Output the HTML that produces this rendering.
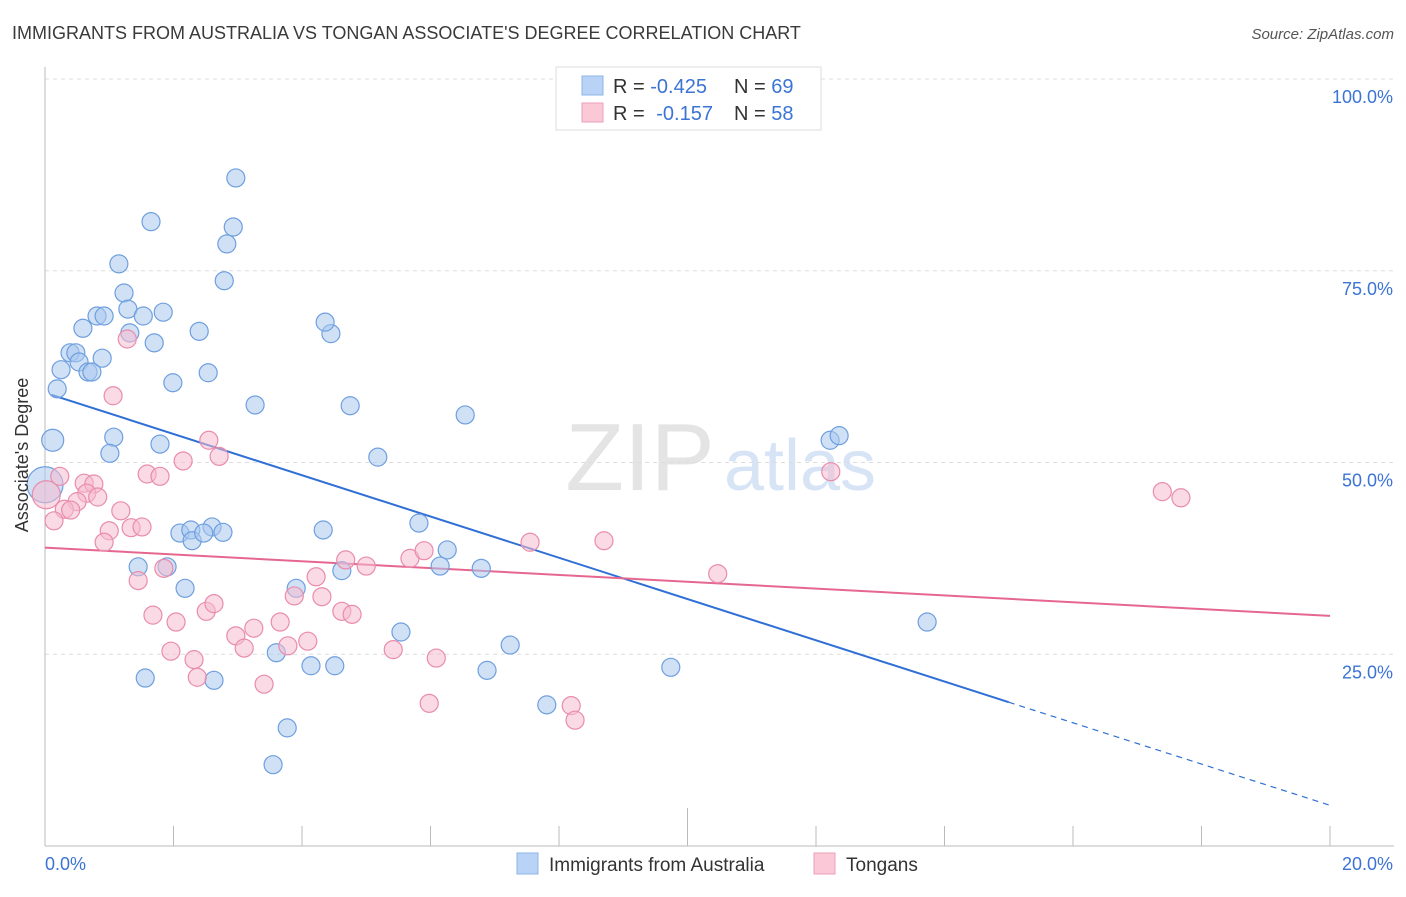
<!DOCTYPE html>
<html><head><meta charset="utf-8"><style>
body{margin:0;background:#fff;font-family:"Liberation Sans",sans-serif;}
svg text{font-family:"Liberation Sans",sans-serif;}
</style></head><body>
<svg id="chart" width="1406" height="892" xmlns="http://www.w3.org/2000/svg">
<text x="12" y="39" font-size="18" fill="#3a3a3a">IMMIGRANTS FROM AUSTRALIA VS TONGAN ASSOCIATE'S DEGREE CORRELATION CHART</text>
<text x="1394" y="39" font-size="15" fill="#555" font-style="italic" text-anchor="end">Source: ZipAtlas.com</text>
<text x="640" y="490" font-size="96" fill="#e4e4e4" font-family="Liberation Serif" text-anchor="middle">ZIP</text>
<text x="800" y="490" font-size="72" fill="#d6e4f5" text-anchor="middle">atlas</text>
<g id="grid"></g>
<g id="axes"></g>
<g id="lines"></g>
<g id="points"></g>
<text x="28" y="455" font-size="18" fill="#333" text-anchor="middle" transform="rotate(-90 28 455)">Associate's Degree</text>
<g>
<rect x="556" y="67" width="265" height="63" fill="#fff" stroke="#ddd"/>
<rect x="582" y="76" width="21" height="19" fill="#b8d3f5" stroke="#8cb4e8"/>
<rect x="582" y="103" width="21" height="19" fill="#fac8d7" stroke="#ee9fba"/>
<text x="613" y="93" font-size="20" fill="#333">R = <tspan fill="#3b74d4">-0.425</tspan></text>
<text x="734" y="93" font-size="20" fill="#333">N = <tspan fill="#3b74d4">69</tspan></text>
<text x="613" y="120" font-size="20" fill="#333">R = <tspan fill="#3b74d4" dx="6">-0.157</tspan></text>
<text x="734" y="120" font-size="20" fill="#333">N = <tspan fill="#3b74d4">58</tspan></text>
</g>
<g>
<rect x="517" y="853" width="21" height="21" fill="#b8d3f5" stroke="#8cb4e8"/>
<text x="549" y="871" font-size="19" fill="#333">Immigrants from Australia</text>
<rect x="814" y="853" width="21" height="21" fill="#fac8d7" stroke="#ee9fba"/>
<text x="846" y="871" font-size="19" fill="#333">Tongans</text>
</g>
</svg>
<script>
const xTicks=[0,2,4,6,8,10,12,14,16,18,20];
const yTicks=[25,50,75,100];
const yTickLabels=["25.0%","50.0%","75.0%","100.0%"];
const blueX=[2.97,1.65,2.93,2.83,2.79,1.15,1.23,0.59,0.81,0.92,1.29,1.53,1.84,1.32,1.70,2.40,4.45,4.36,0.39,0.48,0.25,0.53,0.67,0.73,0.89,0.19,1.99,2.54,3.27,4.75,6.54,0.12,1.07,1.79,1.01,5.18,12.22,12.36,0,2.10,2.27,2.29,2.60,2.47,2.77,4.33,5.82,6.26,6.15,6.79,1.45,1.90,2.18,3.91,4.62,5.54,3.60,4.14,4.51,7.24,6.88,1.56,2.63,9.74,7.81,3.77,3.55,13.73];
const blueY=[87.1,81.4,80.7,78.5,73.7,75.9,72.1,67.5,69.1,69.1,70.0,69.1,69.6,66.9,65.6,67.1,66.8,68.3,64.3,64.3,62.1,63.1,61.8,61.8,63.6,59.6,60.4,61.7,57.5,57.4,56.2,52.9,53.3,52.4,51.2,50.7,52.9,53.5,47.1,40.8,41.2,39.8,41.6,40.8,40.9,41.2,42.1,38.6,36.5,36.2,36.4,36.4,33.6,33.6,35.9,27.9,25.2,23.5,23.5,26.2,22.9,21.9,21.6,23.3,18.4,15.4,10.6,29.2];
const blueBig={31:11,38:18};
const pinkX=[1.28,1.06,2.55,2.71,2.15,1.59,1.79,0.23,0.61,0.76,0.65,0.82,0.50,0.30,0.40,0.14,1.18,1.34,1.51,1.00,0.92,1.85,1.45,1.68,2.04,2.51,2.63,2.97,3.10,3.25,3.66,3.78,4.09,3.88,4.22,4.31,4.68,5.00,5.68,5.90,4.62,4.78,5.42,6.09,5.98,3.41,2.37,2.32,1.96,7.55,8.70,10.47,8.19,8.25,12.23,17.39,17.68,0.02];
const pinkY=[66.1,58.7,52.9,50.8,50.2,48.5,48.2,48.2,47.3,47.2,46.0,45.5,44.9,43.9,43.8,42.4,43.7,41.5,41.6,41.1,39.6,36.2,34.6,30.1,29.2,30.6,31.6,27.4,25.8,28.4,29.2,26.1,26.7,32.6,35.1,32.5,37.3,36.5,37.5,38.5,30.6,30.2,25.6,24.5,18.6,21.1,22.0,24.3,25.4,39.6,39.8,35.5,18.3,16.4,48.8,46.2,45.4,45.8];
const pinkBig={57:14};
const blueTrend=[59.1,-2.69]; // intercept, slope per %
const pinkTrend=[38.9,-0.445];
const blueSolidEnd=15.0;

const NS="http://www.w3.org/2000/svg";
const X=v=>45+v*64.25, Y=v=>846-v*7.67;
function mk(tag,attrs,parent){const e=document.createElementNS(NS,tag);for(const k in attrs)e.setAttribute(k,attrs[k]);document.getElementById(parent).appendChild(e);return e;}
yTicks.forEach((t,i)=>{
 const g=mk('line',{x1:45,x2:1394,y1:Y(t),y2:Y(t),stroke:'#ddd','stroke-dasharray':'4,4'},'grid');
 
 
 const l=mk('text',{x:1393,y:Y(t)+24,'font-size':18,fill:'#3b74d4','text-anchor':'end'},'grid');
 l.textContent=yTickLabels[i];
 
 
});
const ax=mk('line',{x1:45,x2:1394,y1:846,y2:846,stroke:'#bbb'},'axes');


const ay=mk('line',{x1:45,x2:45,y1:67,y2:846,stroke:'#bbb'},'axes');


xTicks.forEach((t,i)=>{
 const tk=mk('line',{x1:X(t),x2:X(t),y1:(i===5?808:826),y2:846,stroke:'#bbb'},'axes');
 
 
});
const xl0=mk('text',{x:45,y:870,'font-size':18,fill:'#3b74d4'},'axes');xl0.textContent=xTicks[0].toFixed(1)+'%';


const xl1=mk('text',{x:1393,y:870,'font-size':18,fill:'#3b74d4','text-anchor':'end'},'axes');xl1.textContent=xTicks[xTicks.length-1].toFixed(1)+'%';



function pts(xs,ys,big,fill,stroke,name){
 xs.forEach((x,i)=>{
  const c=mk('circle',{cx:X(x),cy:Y(ys[i]),r:big[i]||9,fill:fill,'fill-opacity':0.55,stroke:stroke,'stroke-width':1.2},'points');
  
  
 });
}
pts(blueX,blueY,blueBig,'#a9c8ef','#6f9fdf','point-australia');
pts(pinkX,pinkY,pinkBig,'#f6bccd','#e98cab','point-tongans');
const by=v=>blueTrend[0]+blueTrend[1]*v, py=v=>pinkTrend[0]+pinkTrend[1]*v;
const bl=mk('line',{x1:X(0.1),y1:Y(by(0.1)),x2:X(blueSolidEnd),y2:Y(by(blueSolidEnd)),stroke:'#2f6fd6','stroke-width':2},'lines');


const bd=mk('line',{x1:X(blueSolidEnd),y1:Y(by(blueSolidEnd)),x2:X(20),y2:Y(by(20)),stroke:'#2f6fd6','stroke-width':1.2,'stroke-dasharray':'6,5'},'lines');


const pl=mk('line',{x1:X(0),y1:Y(py(0)),x2:X(20),y2:Y(py(20)),stroke:'#e5678f','stroke-width':2},'lines');


</script>
</body></html>
